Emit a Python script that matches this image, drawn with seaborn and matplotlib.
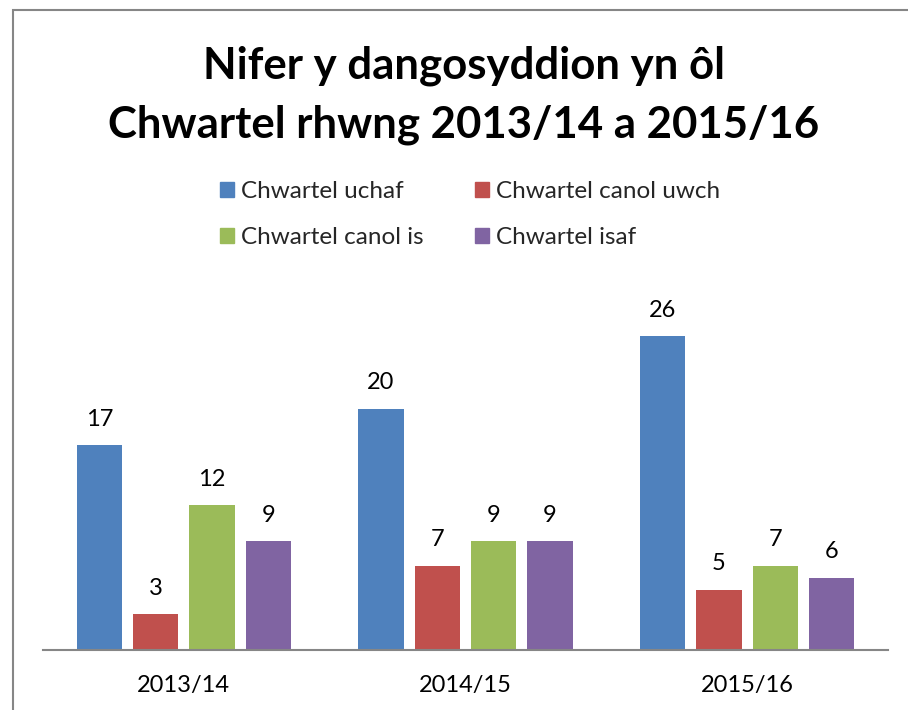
import seaborn as sns
import pandas as pd
import matplotlib.pyplot as plt
from matplotlib.patches import Patch, Rectangle

sns.set_style("white")
plt.rcParams['font.family'] = ['Lato', 'DejaVu Sans']

# Data
years = ["2013/14", "2014/15", "2015/16"]
quartiles = ["Chwartel uchaf", "Chwartel canol uwch", "Chwartel canol is", "Chwartel isaf"]
uchaf = [17, 20, 26]
canol_uwch = [3, 7, 5]
canol_is = [12, 9, 7]
isaf = [9, 9, 6]
colors = ["#4F81BD", "#C0504D", "#9BBB59", "#8064A2"]

title = "Nifer y dangosyddion yn ôl\nChwartel rhwng 2013/14 a 2015/16"

rows = []
for q, vals in zip(quartiles, [uchaf, canol_uwch, canol_is, isaf]):
    for y, v in zip(years, vals):
        rows.append({"year": y, "quartile": q, "value": v})
df = pd.DataFrame(rows)

W, H = 908, 710
fig = plt.figure(figsize=(W / 100, H / 100), dpi=100)

# chart frame (only left and top edges visible in the crop)
fig.patches.append(Rectangle((13 / W, -0.1), 1.2, (H - 10) / H + 0.1, transform=fig.transFigure,
                             fill=False, edgecolor="#868686", linewidth=1.5))

ax = fig.add_axes([43 / W, 60 / H, 845 / W, 362 / H])
sns.barplot(data=df, x="year", y="value", hue="quartile", hue_order=quartiles,
            palette=colors, order=years, width=0.8, gap=0.2, saturation=1,
            edgecolor="none", ax=ax, legend=False)

for c in ax.containers:
    ax.bar_label(c, padding=11, fontsize=17, color="black")

ax.set_ylim(0, 30)
ax.set_yticks([])
ax.set_xlabel("")
ax.set_ylabel("")
for s in ["top", "right", "left"]:
    ax.spines[s].set_visible(False)
ax.spines["bottom"].set_color("#868686")
ax.spines["bottom"].set_linewidth(1.5)
ax.tick_params(axis="x", length=0, pad=18, labelsize=17, labelcolor="black")

fig.text(464 / W, 1 - 95 / H, title, ha="center", va="center", fontsize=31.5,
         fontweight="bold", linespacing=1.55, color="black")

handles = [Patch(color=c, label=q) for c, q in zip(colors, quartiles)]
order = [0, 2, 1, 3]
fig.legend([handles[i] for i in order], [quartiles[i] for i in order],
           ncol=2, loc="upper left", bbox_to_anchor=(198 / W, 1 - 159 / H),
           frameon=False, fontsize=17.5, handlelength=0.58, handleheight=0.58,
           handletextpad=0.3, columnspacing=2.1, labelspacing=1.05)

fig.savefig("out.png", dpi=100)
